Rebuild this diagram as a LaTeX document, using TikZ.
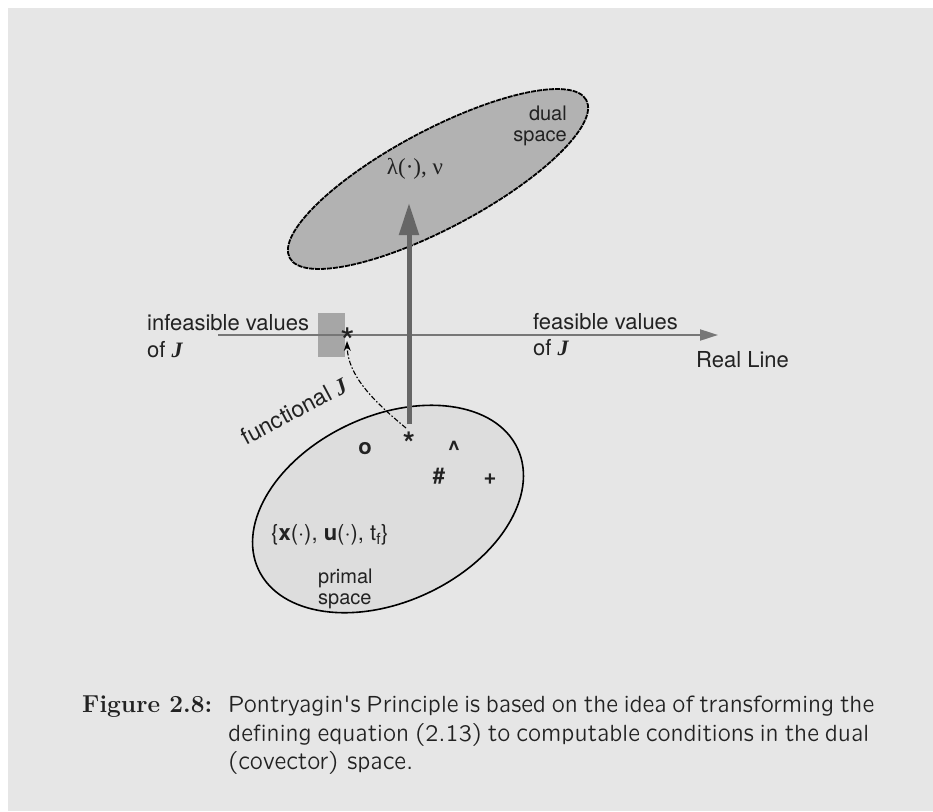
\documentclass[tikz,border=0pt]{standalone}
\usepackage{fontspec}
\usetikzlibrary{arrows.meta,shapes.geometric}
\newfontfamily\helv{TeX Gyre Heros}
\newfontfamily\tms{Liberation Serif}
\newfontfamily\capsf{lmsansquot8-regular.otf}[FakeStretch=0.89]
\definecolor{paper}{HTML}{E6E6E6}
\definecolor{ink}{HTML}{222222}
\definecolor{dualgray}{HTML}{B2B2B2}
\definecolor{primalgray}{HTML}{DDDDDD}
\definecolor{arrowgray}{HTML}{666666}
\definecolor{linegray}{HTML}{777777}
\definecolor{boxgray}{HTML}{A6A6A6}
\newcommand{\Jsym}{{\tms\bfseries\itshape J}}
\begin{document}
\begin{tikzpicture}[x=1pt,y=-1pt,
  big/.style={font=\helv\fontsize{22}{26}\selectfont, text=ink, inner sep=0pt, anchor=base west},
  small/.style={font=\helv\fontsize{20}{24}\selectfont, text=ink, inner sep=0pt, anchor=base west},
  sym/.style={font=\helv\bfseries\fontsize{22}{24}\selectfont, text=ink, inner sep=0pt, anchor=base},
  captxt/.style={font=\capsf\fontsize{23.5}{28.5}\selectfont, text=ink, inner sep=0pt, anchor=base west}]
  % page and background
  \useasboundingbox (0,0) rectangle (933,811);
  \fill[white] (0,0) rectangle (933,811);
  \fill[paper] (8,8) rectangle (933,811);

  % dual space
  \node[ellipse, draw=black, fill=dualgray, line width=1.8pt,
        dash pattern=on 5pt off 1pt, minimum width=336pt, minimum height=98pt,
        inner sep=0pt, rotate=28] (dual) at (438,179) {};
  \node[small, anchor=base east] (dual1) at (567,120) {dual};
  \node[small, anchor=base east] (dual2) at (567,141) {space};
  \node[font=\tms\fontsize{23}{26}\selectfont, text=ink, inner sep=0pt, anchor=base] (lam) at (415,174) {λ(·), ν};

  % primal space
  \node[ellipse, draw=black, fill=primalgray, line width=1.6pt,
        minimum width=286pt, minimum height=186pt, inner sep=0pt, rotate=25] (primal) at (388,509) {};
  \node[font=\helv\fontsize{22}{26}\selectfont, text=ink, inner sep=0pt, anchor=base west] (xu) at (271,540) {\{\textbf{x}(·), \textbf{u}(·), t\textsubscript{f}\}};
  \node[small] (prim1) at (318,583) {primal};
  \node[small] (prim2) at (318,604) {space};
  \node[sym] (so) at (365,454) {o};
  \node[sym, font=\helv\bfseries\fontsize{31}{32}\selectfont] (sstar) at (409,454) {*};
  \node[sym] (shat) at (454,456) {\^{}};
  \node[sym] (shash) at (439,483) {\#};
  \node[sym] (splus) at (490,484) {+};

  % real line
  \coordinate (rl0) at (218,335);
  \coordinate (rl1) at (718,335);
  \fill[boxgray] (318,313) rectangle (345,357);
  \draw[linegray, line width=2pt, -{Triangle[length=18pt, width=11pt]}] (rl0) -- (rl1);
  \node[font=\helv\fontsize{38}{40}\selectfont, text=ink, inner sep=0pt, anchor=base] (lstar) at (348,355) {*};
  \node[big] (inf1) at (147,330) {infeasible values};
  \node[big] (inf2) at (147,357) {of \Jsym};
  \node[big] (fea1) at (533,329) {feasible values};
  \node[big] (fea2) at (533,355) {of \Jsym};
  \node[big] (real) at (696,367) {Real Line};

  % mapping to the dual space
  \coordinate (up0) at (409,424);
  \coordinate (up1) at (409,203);
  \draw[arrowgray, line width=5pt, -{Triangle[length=32pt, width=19pt]}] (up0) -- (up1);

  % the functional J
  \draw[black, line width=1.1pt, dash pattern=on 5pt off 2pt on 1.5pt off 2pt,
        -{Stealth[length=10pt, width=7pt]}]
    (406,428) .. controls (372,400) and (348,375) .. (347,341);
  \node[font=\helv\fontsize{23}{26}\selectfont, text=ink, inner sep=0pt, anchor=base, rotate=28] (func) at (298,418) {functional \Jsym};

  % caption
  \node[font=\bfseries\fontsize{24.5}{28.5}\selectfont, text=ink, inner sep=0pt, anchor=base west] (fig) at (82,712) {Figure 2.8:};
  \node[captxt] (cap1) at (228,712) {\hbox to 641pt{Pontryagin's Principle is based on the idea of transforming the}};
  \node[captxt] (cap2) at (228,741) {\hbox to 641pt{defining equation (2.13) to computable conditions in the dual}};
  \node[captxt] (cap3) at (228,769) {(covector) space.};
\end{tikzpicture}
\end{document}
